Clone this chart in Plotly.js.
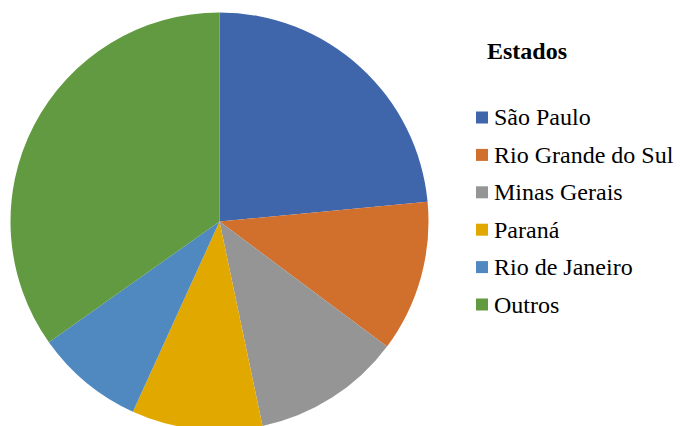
<!DOCTYPE html>
<html>
<head>
<meta charset="utf-8">
<script src="https://cdn.plot.ly/plotly-3.0.1.min.js"></script>
<style>
  html, body { margin: 0; padding: 0; overflow: hidden; background: #fff; }
  #chart { width: 680px; height: 432px; }
  .warm { position: absolute; left: -9999px; top: 0; font-size: 24px; font-family: 'Liberation Serif'; }
</style>
</head>
<body>
<div class="warm">São Paulo Rio Grande do Sul Minas Gerais Paraná Rio de Janeiro Outros</div>
<div class="warm" style="font-weight:bold">Estados</div>
<div id="chart"></div>
<script>
// Data
const states = ['São Paulo', 'Rio Grande do Sul', 'Minas Gerais', 'Paraná', 'Rio de Janeiro', 'Outros'];
const shares = [23.5, 11.7, 11.5, 10.1, 8.4, 34.8];
const sliceColors = ['#3F65AB', '#D1702C', '#959595', '#E1A900', '#4F89BF', '#629A41'];
const legendTitle = 'Estados';

const W = 680, H = 432;
const px = x => x / W;
const py = y => 1 - y / H;
const SERIF = 'Liberation Serif';

const trace = {
  type: 'pie',
  labels: states,
  values: shares,
  marker: { colors: sliceColors, line: { width: 0 } },
  sort: false,
  direction: 'clockwise',
  rotation: 0,
  textinfo: 'none',
  hoverinfo: 'label+percent',
  domain: { x: [px(10.5), px(428.5)], y: [py(430.5), py(12.5)] },
  showlegend: false
};

// Legend drawn as annotations + square shapes, built from the data arrays
const legendTop = 117.5, legendStep = 37.4, sq = 12;
const annotations = [{
  x: px(485), y: py(51), xref: 'paper', yref: 'paper',
  xanchor: 'left', yanchor: 'middle', showarrow: false,
  text: legendTitle,
  font: { family: SERIF, size: 24, weight: 'bold', color: '#000000' }
}];
const shapes = [];
states.forEach((s, i) => {
  const cy = legendTop + i * legendStep;
  annotations.push({
    x: px(492), y: py(cy), xref: 'paper', yref: 'paper',
    xanchor: 'left', yanchor: 'middle', showarrow: false,
    text: s,
    font: { family: SERIF, size: 24, color: '#000000' }
  });
  shapes.push({
    type: 'rect', xref: 'paper', yref: 'paper',
    x0: px(476), x1: px(476 + sq), y0: py(cy - sq / 2), y1: py(cy + sq / 2),
    fillcolor: sliceColors[i], line: { width: 0 }
  });
});

const layout = {
  width: W,
  height: H,
  margin: { l: 0, r: 0, t: 0, b: 0, autoexpand: false },
  paper_bgcolor: '#ffffff',
  plot_bgcolor: '#ffffff',
  font: { family: SERIF, color: '#000000' },
  showlegend: false,
  annotations: annotations,
  shapes: shapes
};

function draw() {
  Plotly.newPlot('chart', [trace], layout, { displayModeBar: false, staticPlot: true });
}

if (document.fonts && document.fonts.load) {
  Promise.all([
    document.fonts.load('24px "Liberation Serif"'),
    document.fonts.load('bold 24px "Liberation Serif"')
  ]).then(draw, draw);
} else {
  draw();
}
</script>
</body>
</html>
